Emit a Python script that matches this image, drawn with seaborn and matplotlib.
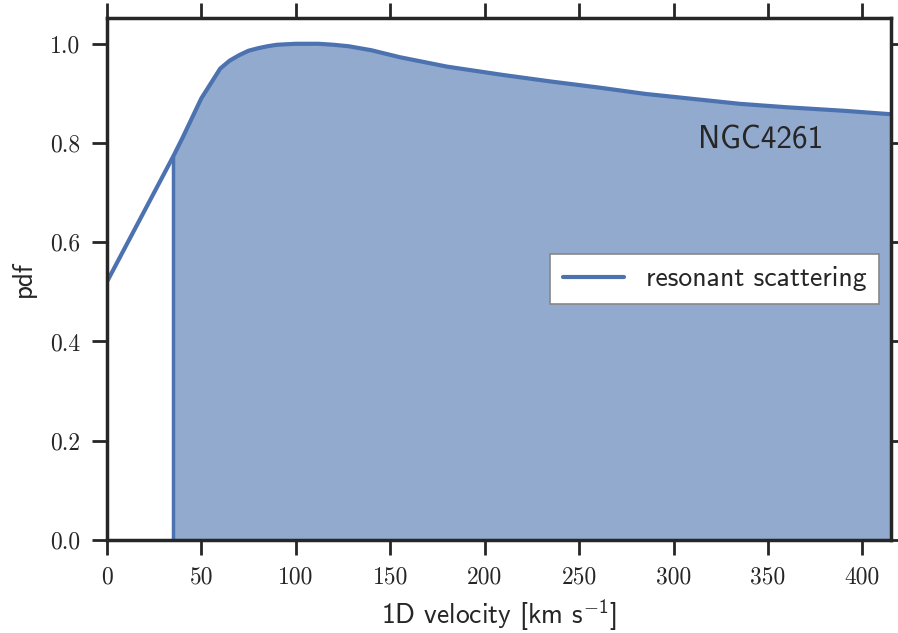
import numpy as np
import pandas as pd
import seaborn as sns
import matplotlib
matplotlib.use("Agg")
import matplotlib.pyplot as plt
from matplotlib.ticker import FixedLocator, FixedFormatter

# ---- data ----
velocity = [0, 10, 20, 30, 35, 40, 50, 60, 65, 70, 75, 80, 85, 90, 95, 100,
            105, 112, 120, 128, 140, 155, 180, 210, 235, 260, 285, 310, 335,
            360, 390, 415]
pdf_vals = [0.52, 0.592, 0.664, 0.736, 0.772, 0.81, 0.89, 0.950, 0.966,
            0.977, 0.986, 0.991, 0.995, 0.998, 0.999, 1.0, 1.0, 1.0, 0.998,
            0.995, 0.987, 0.973, 0.954, 0.937, 0.924, 0.912, 0.899, 0.889,
            0.879, 0.872, 0.865, 0.858]
fill_start = 35
series_label = "resonant scattering"
galaxy = "NGC4261"
xticks = [0, 50, 100, 150, 200, 250, 300, 350, 400]
yticks = [0.0, 0.2, 0.4, 0.6, 0.8, 1.0]

df = pd.DataFrame({"velocity": velocity, "pdf": pdf_vals})

sns.set_theme(style="ticks")
plt.rcParams["font.family"] = ["cmss10", "DejaVu Sans"]
plt.rcParams["mathtext.fontset"] = "custom"
plt.rcParams["mathtext.rm"] = "cmss10"
plt.rcParams["mathtext.it"] = "cmss10"
plt.rcParams["mathtext.sf"] = "cmss10"
plt.rcParams["axes.unicode_minus"] = False

blue = "#4c72b0"
dark = "#262626"

fig = plt.figure(figsize=(8.98, 6.33), dpi=100)
ax = fig.add_axes([0.119, 0.147, 0.873, 0.8246])

sel = df[df["velocity"] >= fill_start]
ax.fill_between(sel["velocity"], 0, sel["pdf"], color=blue, alpha=0.6, lw=0)
ax.vlines(fill_start, 0, df.loc[df["velocity"] == fill_start, "pdf"].iloc[0],
          color=blue, lw=2.5)
sns.lineplot(data=df, x="velocity", y="pdf", ax=ax, color=blue, lw=3,
             label=series_label)

ax.set_xlim(0, 415)
ax.set_ylim(0, 1.052)

ax.xaxis.set_major_locator(FixedLocator(xticks))
ax.xaxis.set_major_formatter(FixedFormatter([str(t) for t in xticks]))
ax.yaxis.set_major_locator(FixedLocator(yticks))
ax.yaxis.set_major_formatter(FixedFormatter([f"{t:.1f}" for t in yticks]))
for lab in ax.get_xticklabels() + ax.get_yticklabels():
    lab.set_fontfamily("cmr10")
    lab.set_fontsize(17)
    lab.set_color(dark)

ax.tick_params(axis="both", which="major", direction="out", length=11,
               width=2, color=dark, top=True, right=True, pad=8)
for sp in ax.spines.values():
    sp.set_linewidth(2.5)
    sp.set_color(dark)

ax.set_xlabel("1D velocity [km s$^{-1}$]", fontsize=19.8, color=dark, labelpad=6)
ax.set_ylabel("pdf", fontsize=19.5, color=dark, labelpad=10)

ax.text(346, 0.807, galaxy, fontsize=22.5, color=dark, ha="center", va="center")

leg = ax.legend(loc="center right", bbox_to_anchor=(0.985, 0.50), fontsize=20,
                frameon=True, fancybox=False, framealpha=1, edgecolor="#888888",
                handlelength=2.2, handletextpad=0.8, borderpad=0.45,
                borderaxespad=0)
leg.get_frame().set_linewidth(1.2)
for t in leg.get_texts():
    t.set_color(dark)

fig.savefig("out.png", dpi=100)
